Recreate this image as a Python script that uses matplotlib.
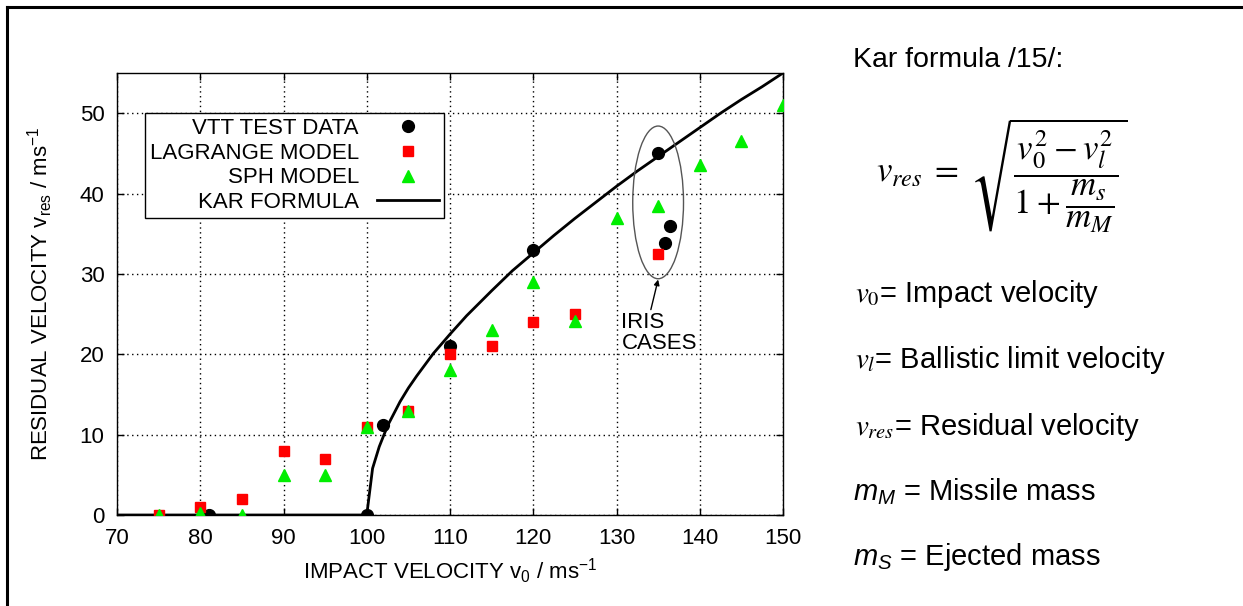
import matplotlib
matplotlib.use("Agg")
import matplotlib.pyplot as plt
from matplotlib.patches import Ellipse
from matplotlib.lines import Line2D

plt.rcParams['font.family'] = ['Liberation Sans', 'DejaVu Sans']
plt.rcParams['mathtext.fontset'] = 'custom'
plt.rcParams['mathtext.rm'] = 'Liberation Sans'
plt.rcParams['mathtext.it'] = 'Liberation Sans:italic'
plt.rcParams['mathtext.sf'] = 'Liberation Sans'

# measured residual velocities (m/s)
vtt_v0 = [81, 100, 102, 110, 120, 135, 136.4, 135.8]
vtt_res = [0, 0, 11.2, 21, 33, 45, 36, 33.8]

lag_v0 = [75, 80, 85, 90, 95, 100, 105, 110, 115, 120, 125, 135]
lag_res = [0, 1, 2, 8, 7, 11, 13, 20, 21, 24, 25, 32.5]

sph_v0 = [75, 80, 85, 90, 95, 100, 105, 110, 115, 120, 125, 130, 135, 140, 145, 150]
sph_res = [0, 0.2, 0, 5, 5, 11, 13, 18, 23, 29, 24.2, 37, 38.5, 43.5, 46.6, 51]

# Kar formula curve (ballistic limit 100 m/s)
kar_v0 = [70, 100, 100.7, 101.5, 102.5, 103, 104, 105, 106, 107, 108, 109, 110, 112,
          115, 117.5, 120, 122.5, 125, 127.5, 130, 132.5, 135, 137.5, 140, 142.5,
          145, 147.5, 150]
kar_res = [0, 0, 5.8, 8.5, 11.1, 12.1, 14.1, 15.8, 17.3, 18.7, 20.1, 21.3, 22.5, 24.8,
           27.9, 30.4, 32.6, 34.8, 36.9, 38.9, 40.9, 42.8, 44.6, 46.4, 48.2, 50.0,
           51.7, 53.3, 55.0]

W, H = 1243, 606
fig = plt.figure(figsize=(W / 100, H / 100), dpi=100)
ax = fig.add_axes([117 / W, 1 - 515 / H, 666 / W, 442 / H])

kar, = ax.plot(kar_v0, kar_res, color='black', lw=2, zorder=3, label='KAR FORMULA')
vtt, = ax.plot(vtt_v0, vtt_res, 'o', color='black', ms=8.5, ls='none', zorder=4, label='VTT TEST DATA')
lag, = ax.plot(lag_v0, lag_res, 's', color='#ff0000', ms=7, ls='none', zorder=5, label='LAGRANGE MODEL')
sph, = ax.plot(sph_v0, sph_res, '^', color='#00ee00', ms=9, ls='none', zorder=6, label='SPH MODEL')

ax.set_xlim(70, 150)
ax.set_ylim(0, 55)
ax.set_xticks(range(70, 151, 10))
ax.set_yticks(range(0, 51, 10))
ax.grid(True, color='black', linestyle=(0, (1, 2.5)), lw=1)
ax.tick_params(direction='in', top=True, right=True, length=5, width=1, labelsize=16)
ax.tick_params(axis='x', pad=9)
ax.tick_params(axis='y', pad=9)
for s in ax.spines.values():
    s.set_linewidth(1)

ax.set_xlabel(r'IMPACT VELOCITY v$_0$ / ms$^{-1}$', fontsize=16, labelpad=6)
ax.set_ylabel(r'RESIDUAL VELOCITY v$_{\rm res}$ / ms$^{-1}$', fontsize=16, labelpad=18)

leg = ax.legend(handles=[vtt, lag, sph, kar], loc='upper left',
                bbox_to_anchor=(0.042, 0.9095), borderaxespad=0,
                markerfirst=False, fancybox=False, framealpha=1,
                edgecolor='black', fontsize=16, handlelength=2.8,
                handletextpad=0.8, labelspacing=0.17, borderpad=0.22)
leg.get_frame().set_linewidth(1)
leg.set_zorder(10)

# iris cases marker
ax.add_patch(Ellipse((135, 38.9), 6.1, 19, fill=False, edgecolor='#555555', lw=1, zorder=7))
ax.annotate('IRIS\nCASES', xy=(135, 29.3), xytext=(130.6, 22.6),
            fontsize=16, ha='left', va='center', linespacing=1.0,
            arrowprops=dict(arrowstyle='-|>', color='black', lw=1, shrinkA=0, shrinkB=0,
                            mutation_scale=8, relpos=(0.38, 1.0)))

def ftext(x, y, s, **kw):
    fig.text(x / W, 1 - y / H, s, **kw)

ftext(853, 67, 'Kar formula /15/:', fontsize=20.5, va='baseline')
ftext(876, 176, r'$v_{res}\;=\;\sqrt{\dfrac{v_0^2 - v_l^2}{1 + \dfrac{m_s}{m_M}}}$',
      fontsize=25, va='center', math_fontfamily='stix')

ftext(855, 302, r'$v_{\mathit{0}}$= Impact velocity', fontsize=21, va='baseline', math_fontfamily='stix')
ftext(855, 368, r'$v_{\mathit{l}}$= Ballistic limit velocity', fontsize=21, va='baseline', math_fontfamily='stix')
ftext(855, 435, r'$v_{res}$= Residual velocity', fontsize=21, va='baseline', math_fontfamily='stix')
ftext(853, 500, r'$m_M$ = Missile mass', fontsize=21, va='baseline')
ftext(853, 565, r'$m_S$ = Ejected mass', fontsize=21, va='baseline')

# page border (left and top)
fig.add_artist(Line2D([7 / W, 7 / W], [0, 1 - 6.5 / H], transform=fig.transFigure, color='black', lw=2.2))
fig.add_artist(Line2D([7 / W, 1], [1 - 6.5 / H, 1 - 6.5 / H], transform=fig.transFigure, color='black', lw=2.2))

plt.savefig('out.png', dpi=100)
